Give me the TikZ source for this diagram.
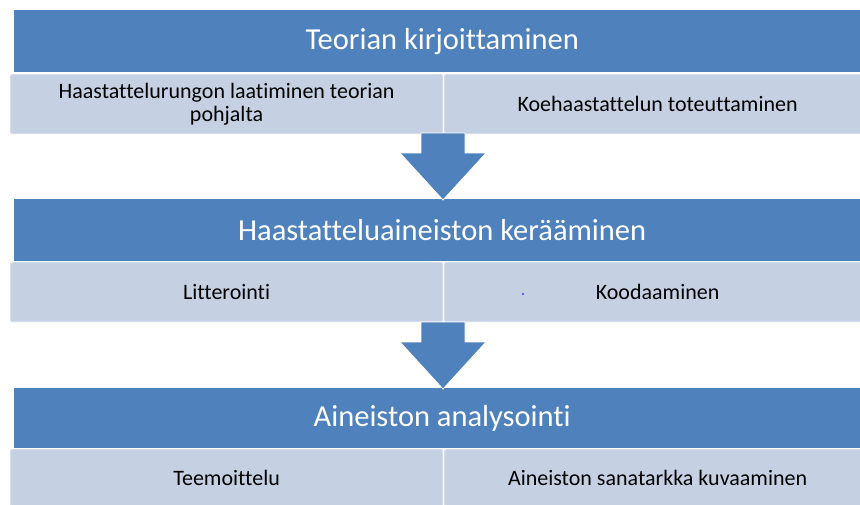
\documentclass[tikz,border=0pt]{standalone}
\usepackage{fontspec}
\setmainfont{Carlito}[Ligatures={NoCommon}]
\usetikzlibrary{calc}
\definecolor{hdrblue}{HTML}{4F81BD}
\definecolor{subfill}{HTML}{C5D0E3}
\definecolor{subedge}{HTML}{D5DDEB}
\definecolor{dotblue}{HTML}{3C3CF0}
\tikzset{
  hdr/.style={fill=hdrblue, draw=none, anchor=north west, minimum width=856pt,
    minimum height=62pt, inner sep=0pt, text=white,
    font=\fontsize{30.5}{36}\selectfont},
  subbox/.style={fill=subfill, draw=subedge, line width=1.2pt, rounded corners=2pt,
    anchor=north west, minimum height=59pt, inner sep=0pt, text=black,
    align=center, font=\fontsize{22}{23}\selectfont},
  leftsub/.style={subbox, minimum width=432pt},
  rightsub/.style={subbox, minimum width=426pt},
  blkarrow/.style={fill=hdrblue, draw=white, line width=0.8pt, line join=miter}
}
\begin{document}
\begin{tikzpicture}[x=1pt,y=-1pt]
  \useasboundingbox (0,0) rectangle (860,504);
  \clip (0,0) rectangle (860,504);
  \fill[white] (0,0) rectangle (860,504);

  % stage 1
  \node[hdr] (h1) at (14,10) {Teorian kirjoittaminen};
  \node[leftsub] (s1a) at (10,74) {Haastattelurungon laatiminen teorian\\pohjalta};
  \node[rightsub] (s1b) at (444,74) {Koehaastattelun toteuttaminen};

  % stage 2
  \node[hdr] (h2) at (14,199) {Haastatteluaineiston kerääminen};
  \node[leftsub] (s2a) at (10,262) {Litterointi};
  \node[rightsub] (s2b) at (444,262) {Koodaaminen};
  \fill[dotblue] (523,294) circle (1.1);

  % stage 3
  \node[hdr, minimum height=60pt] (h3) at (14,388) {Aineiston analysointi};
  \node[leftsub, minimum height=57pt] (s3a) at (10,449) {Teemoittelu};
  \node[rightsub, minimum height=57pt] (s3b) at (444,449) {Aineiston sanatarkka kuvaaminen};

  % block arrows between the stages
  \coordinate (a1top) at (443,133);
  \coordinate (a1tip) at (443,200);
  \coordinate (a2top) at (443,322);
  \coordinate (a2tip) at (443,389);
  \foreach \t/\p in {a1top/a1tip, a2top/a2tip}{
    \filldraw[blkarrow] ($(\t)+(-22,0)$) -- ++(0,20) -- ++(-21,0) -- (\p)
      -- ++(43,-47) -- ++(-21,0) -- ++(0,-20) -- cycle;
  }
\end{tikzpicture}
\end{document}
